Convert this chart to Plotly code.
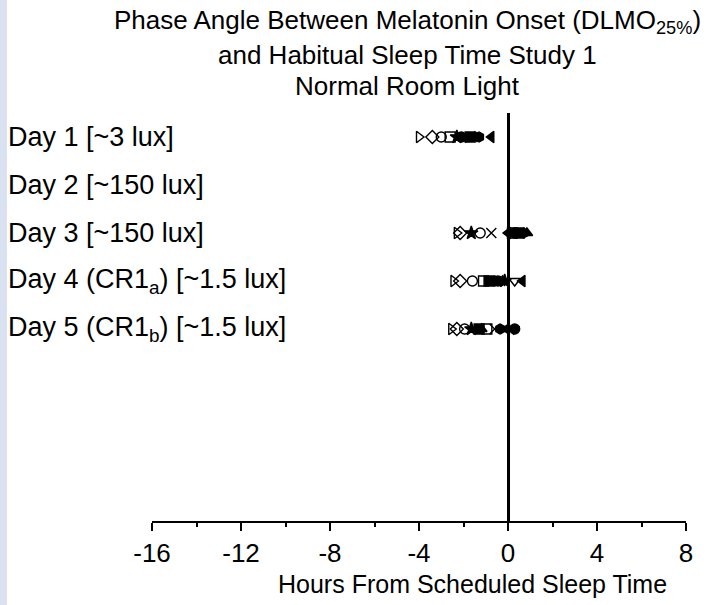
import plotly.graph_objects as go

days = ["Day 1 [~3 lux]", "Day 2 [~150 lux]", "Day 3 [~150 lux]",
        "Day 4 (CR1<sub>a</sub>) [~1.5 lux]", "Day 5 (CR1<sub>b</sub>) [~1.5 lux]"]
day_pos = [8, 7, 6, 5, 4]

symbols = ["triangle-right-open", "diamond-open", "circle-open", "square-open",
           "triangle-down-open", "star", "x-thin-open", "circle", "square",
           "hexagon", "triangle-up", "triangle-left"]

# phase angle (h) per subject for Day1..Day5 (None = no data)
s1 = [-4.0, None, -2.3, -2.45, -2.55]
s2 = [-3.4, None, -2.15, -2.15, -2.3]
s3 = [-3.0, None, -1.25, -1.6, -1.95]
s4 = [-2.6, None, 0.2, -1.1, -0.95]
s5 = [-1.9, None, 0.4, 0.3, 0.25]
s6 = [-2.3, None, -1.65, -0.15, -1.65]
s7 = [-1.6, None, -0.75, -0.35, -0.6]
s8 = [-2.1, None, 0.3, -0.45, 0.3]
s9 = [-1.7, None, 0.5, -0.85, -1.3]
s10 = [-1.3, None, 0.7, -0.6, -0.35]
s11 = [-1.5, None, 0.85, -0.25, -1.2]
s12 = [-0.75, None, 0.0, 0.65, -0.05]
subjects = [s1, s2, s3, s4, s5, s6, s7, s8, s9, s10, s11, s12]

xticks = [-16, -12, -8, -4, 0, 4, 8]
xtick_labels = ["-16", "-12", "-8", "-4", "0", "4", "8"]

fig = go.Figure()
for sym, vals in zip(symbols, subjects):
    fig.add_trace(go.Scatter(
        x=vals, y=day_pos, mode="markers",
        marker=dict(symbol=sym, size=10, color="black",
                    line=dict(color="black", width=1.4)),
        showlegend=False, cliponaxis=False))

font = "Liberation Sans, Arial, sans-serif"
FS = 26

fig.update_layout(
    width=719, height=605,
    margin=dict(l=152, r=33, t=113, b=84),
    paper_bgcolor="white", plot_bgcolor="white",
    font=dict(family=font, size=FS, color="black"),
    xaxis=dict(range=[-16, 8], tickvals=xticks, ticktext=xtick_labels,
               ticks="outside", ticklen=8, tickwidth=1.5, tickcolor="black",
               showline=True, linecolor="black", linewidth=1.5,
               showgrid=False, zeroline=True, zerolinecolor="black",
               zerolinewidth=3,
               minor=dict(dtick=2, ticks="outside", ticklen=4,
                          tickcolor="black", tickwidth=1.5),
               tickfont=dict(size=FS)),
    yaxis=dict(range=[0, 8.5], visible=False, showgrid=False,
               zeroline=False),
)

# left strip
fig.add_shape(type="rect", xref="paper", yref="paper",
              x0=-152 / 534, x1=(7 - 152) / 534,
              y0=-84 / 408, y1=1 + 113 / 408,
              fillcolor="#dae2f1", line=dict(width=0), layer="below")

for label, yp in zip(days, day_pos):
    fig.add_annotation(text=label, xref="paper", yref="y",
                       x=(6 - 152) / 534, y=yp, xanchor="left",
                       yanchor="middle", showarrow=False,
                       font=dict(size=27))

title_lines = ["Phase Angle Between Melatonin Onset (DLMO<sub>25%</sub>)",
               "and Habitual Sleep Time Study 1",
               "Normal Room Light"]
title_y = [22, 55, 86]
for t, ty in zip(title_lines, title_y):
    fig.add_annotation(text=t, xref="paper", yref="paper",
                       x=(407 - 152) / 534, y=(605 - 84 - ty) / 408,
                       xanchor="center", yanchor="middle",
                       showarrow=False, font=dict(size=26))

# x-axis title (offset to the right as in the reference)
fig.add_annotation(text="Hours From Scheduled Sleep Time", xref="paper",
                   yref="paper", x=(472 - 152) / 534, y=(605 - 84 - 584) / 408,
                   xanchor="center", yanchor="middle", showarrow=False,
                   font=dict(size=25))

fig.write_html("out.html", post_script="document.body.style.margin='0';",
               config={"displayModeBar": False})
